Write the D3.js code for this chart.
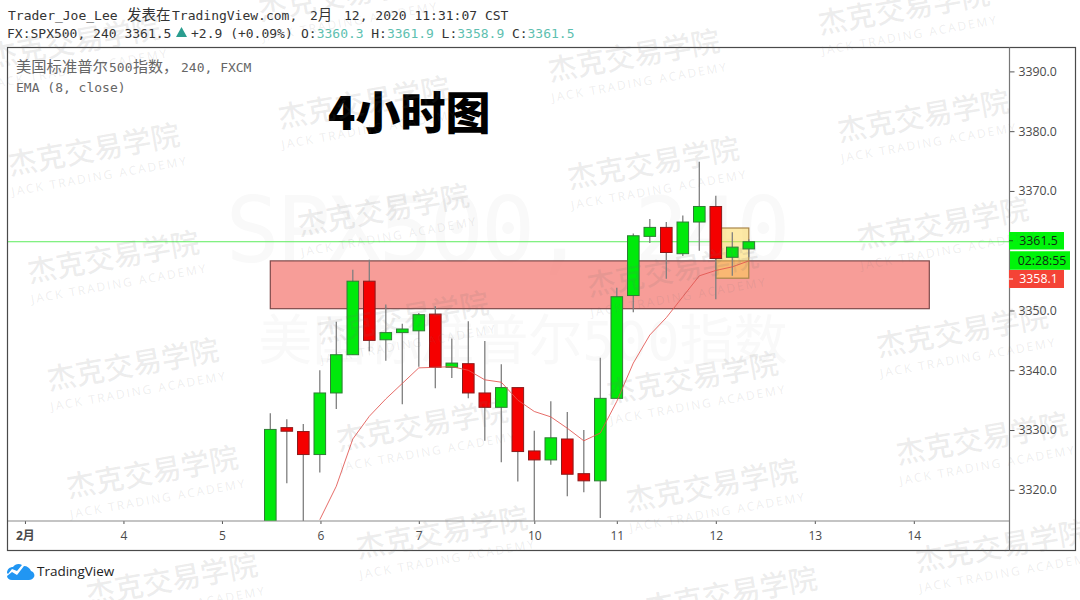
<!DOCTYPE html>
<html><head><meta charset="utf-8">
<script src="https://cdn.jsdelivr.net/npm/d3@7"></script>
<style>html,body{margin:0;padding:0;background:#fff}svg{display:block}text{font-family:"DejaVu Sans Mono","Noto Sans CJK SC",monospace}</style>
</head><body><svg id="c" width="1080" height="600"></svg>
<script>
const opens =[3310,3330.4,3329.75,3325.9,3336.2,3342.6,3354.9,3345.1,3346.3,3346.6,3349.4,3340.5,3341.1,3336.2,3333.8,3337.1,3326.5,3325,3328.5,3322.7,3321.5,3335.3,3352.5,3362.4,3363.9,3359.5,3364.8,3367.4,3358.9,3360.3];
const closes=[3330.1,3329.8,3325.9,3336.2,3342.6,3354.9,3345,3346.3,3346.9,3349.3,3340.5,3341.2,3336.2,3333.8,3337.1,3326.4,3325,3328.7,3322.6,3321.5,3335.3,3352.3,3362.5,3363.9,3359.7,3364.8,3367.4,3358.7,3360.6,3361.5];
const highs =[3332.8,3331.8,3331,3340,3348.1,3356.8,3358.5,3351,3347.8,3349.6,3350.7,3345.3,3348.2,3344.9,3341,3337.1,3329.9,3334.8,3333,3330,3342.1,3353.8,3362.9,3365.3,3364.8,3365.9,3374.9,3369.2,3363.1,3361.9];
const lows  =[3310,3321.1,3312,3322.9,3333.5,3342.6,3343.2,3341.6,3334.3,3340.6,3337,3338.7,3335.3,3328.2,3324.6,3321.4,3313,3324.2,3318.9,3319.6,3315.3,3335.3,3349.7,3361.3,3355.3,3359.1,3360,3351.9,3355.8,3358.9];
const ema   =[null,null,null,3315,3320.6,3328.5,3332.3,3335.2,3337.8,3340.4,3340.5,3340.6,3340,3338.4,3338,3335,3333.1,3332.2,3330.3,3328.2,3329.5,3334.8,3341.2,3345.9,3348.8,3352.3,3355.8,3356.7,3357.3,3358.3];
const yTicks=[3320,3330,3340,3350,3370,3380,3390];
const xTickIdx=[-14.87,-8.9,-2.93,3.04,9,16,21,27,33,39];
const xTickLabels=["2月","4","5","6","7","10","11","12","13","14"];
const ohlcLabels=["O:","H:","L:","C:"];
const ohlcValues=["3360.3","3361.9","3358.9","3361.5"];
const zone=[0,39.94,3358.3,3350.3];
const box=[27,29,3363.8,3355.4];
const lastPrice=3361.5, emaPrice=3358.1;

const svg=d3.select("#c");
const x=d3.scaleLinear().domain([-15,39]).range([22.8,913.8]);
const y=d3.scaleLinear().domain([3320,3390]).range([489.8,71.4]);
const L=7.5,R=1009.5,T=47.5,A=521,B=550.5,RR=1075.5;

svg.append("defs").append("clipPath").attr("id","plot").append("rect").attr("x",L).attr("y",T).attr("width",R-L).attr("height",A-T);

// faint symbol watermark
const sym=svg.append("g").attr("fill","#f9f9f9").attr("text-anchor","middle").style("font-family",'"Liberation Sans","Noto Sans CJK SC",sans-serif');
sym.append("text").attr("x",508).attr("y",262).attr("font-size",90).attr("textLength",565).text("SPX500, 240");
sym.append("text").attr("x",523).attr("y",360).attr("font-size",54).text("美国标准普尔500指数");

const plot=svg.append("g").attr("clip-path","url(#plot)");
// price line
plot.append("line").attr("x1",L).attr("x2",R).attr("y1",y(lastPrice)).attr("y2",y(lastPrice)).attr("stroke","#5cec5c").attr("stroke-width",1);
// drawings
plot.append("rect").attr("x",x(zone[0])).attr("width",x(zone[1])-x(zone[0])).attr("y",y(zone[2])).attr("height",y(zone[3])-y(zone[2])).attr("fill","#f47c76").attr("fill-opacity",.75).attr("stroke","#7e4a4a").attr("stroke-width",1.2);
plot.append("rect").attr("x",x(box[0])).attr("width",x(box[1])-x(box[0])).attr("y",y(box[2])).attr("height",y(box[3])-y(box[2])).attr("fill","#fcd34d").attr("fill-opacity",.5).attr("stroke","#a9854a").attr("stroke-width",1.2);

const idx=d3.range(opens.length);
plot.append("g").selectAll("line").data(idx).join("line")
 .attr("x1",i=>x(i)).attr("x2",i=>x(i)).attr("y1",i=>y(highs[i])).attr("y2",i=>y(lows[i]))
 .attr("stroke","#7f7f7f").attr("stroke-width",1.3);
plot.append("g").selectAll("rect").data(idx).join("rect")
 .attr("x",i=>x(i)-5.8).attr("width",11.6)
 .attr("y",i=>y(Math.max(opens[i],closes[i])))
 .attr("height",i=>Math.max(1,Math.abs(y(opens[i])-y(closes[i]))))
 .attr("fill",i=>closes[i]>=opens[i]?"#00e90b":"#f50000")
 .attr("stroke",i=>closes[i]>=opens[i]?"#2f7d35":"#8a1c1c").attr("stroke-width",1);
plot.append("path").datum(idx.filter(i=>ema[i]!=null))
 .attr("d",d3.line().x(i=>x(i)).y(i=>y(ema[i])))
 .attr("fill","none").attr("stroke","#e2544f").attr("stroke-opacity",.85).attr("stroke-width",1);

// axes
const ay=svg.append("g").attr("transform",`translate(${R},0)`).call(d3.axisRight(y).tickValues(yTicks).tickFormat(d3.format(".1f")).tickSize(5).tickPadding(4));
ay.select(".domain").remove();
ay.selectAll("line").attr("stroke","#555");
ay.selectAll("text").attr("fill","#4a4a4a").style("font-family",'"Open Sans",sans-serif').attr("font-size",12.3);
const ax=svg.append("g").attr("transform",`translate(0,${A})`).call(d3.axisBottom(x).tickValues(xTickIdx).tickFormat((d,i)=>xTickLabels[i]).tickSize(3).tickPadding(7));
ax.select(".domain").remove();
ax.selectAll("line").attr("stroke","#555");
ax.selectAll("text").attr("fill","#4a4a4a").style("font-family",'"Open Sans","Noto Sans CJK SC",sans-serif').attr("font-size",12).attr("font-weight",(d,i)=>i==0?700:400);

svg.append("line").attr("x1",L).attr("x2",R).attr("y1",A).attr("y2",A).attr("stroke","#8a8a8a").attr("stroke-width",1.2);
svg.append("rect").attr("x",L).attr("y",T).attr("width",RR-L).attr("height",B-T).attr("fill","none").attr("stroke","#4a4a4a").attr("stroke-width",1.2);
svg.append("line").attr("x1",R).attr("x2",R).attr("y1",T).attr("y2",B).attr("stroke","#777").attr("stroke-width",1.2);

// price tags
function tag(yc,w,h,fill,col,txt,x0,tick){
  svg.append("rect").attr("x",x0).attr("y",yc-h/2).attr("width",w).attr("height",h).attr("fill",fill);
  if(tick) svg.append("line").attr("x1",x0).attr("x2",x0+4).attr("y1",yc).attr("y2",yc).attr("stroke",tick);
  svg.append("text").attr("x",x0+w/2+2).attr("y",yc+4.4).attr("text-anchor","middle").attr("fill",col).attr("font-size",12.3).style("font-family",'"Open Sans",sans-serif').text(txt);
}
tag(y(lastPrice)-1,55,17.5,"#00f50a","#0f2a12",d3.format(".1f")(lastPrice),1009,"#14551a");
tag(260.5,60,18.5,"#00f50a","#0f2a12","02:28:55",1010);
tag(279,55,18,"#f44336","#fff",d3.format(".1f")(emaPrice),1009,"#fff");

// header
const head=svg.append("g").attr("font-size",13).attr("fill","#333");
const h1=head.append("text").attr("y",20);
h1.append("tspan").attr("x",8).text("Trader_Joe_Lee");
h1.append("tspan").attr("x",127).attr("font-size",14.5).text("发表在");
h1.append("tspan").attr("x",172).text("TradingView.com,");
h1.append("tspan").attr("x",310).text("2");
h1.append("tspan").attr("font-size",14.5).text("月");
h1.append("tspan").attr("x",344).text("12, 2020 11:31:07 CST");
head.append("text").attr("x",7).attr("y",38).text("FX:SPX500, 240 3361.5");
svg.append("path").attr("d","M176 37 L187 37 L181.5 27 Z").attr("fill","#2a9d8f");
head.append("text").attr("x",191).attr("y",38).text("+2.9 (+0.09%)");
ohlcLabels.forEach((lab,i)=>{
  const t=head.append("text").attr("x",301+i*70.3).attr("y",38);
  t.append("tspan").text(lab);
  t.append("tspan").attr("fill","#5ebfb0").text(ohlcValues[i]);
});
const leg=svg.append("g").attr("font-size",13).attr("fill","#666");
const l1=leg.append("text").attr("y",72);
l1.append("tspan").attr("x",16).attr("font-size",15.3).text("美国标准普尔");
l1.append("tspan").attr("x",109).text("500");
l1.append("tspan").attr("x",133).attr("font-size",15).text("指数，");
l1.append("tspan").attr("x",181).text("240, FXCM");
leg.append("text").attr("x",16).attr("y",92).text("EMA (8, close)");

svg.append("text").attr("x",328).attr("y",130).attr("font-size",45).attr("font-weight",900).attr("fill","#000")
  .style("font-family",'"Noto Sans CJK SC",sans-serif').text("4小时图");

// TradingView logo
svg.append("path").attr("fill","#2196f3")
 .attr("d","M7 573 C7 569 10 567 13 567 C15 564 19 563 22 565 L17 571 L12 569 L8 574 Z M24 566 C27 566 30 568 31 571 C34 572 35 575 34 577 C33 579 31 580 29 580 L12 580 C9 580 7 578 7 576 L12 572 L17 575 L24 566Z");
svg.append("text").attr("x",37).attr("y",576).attr("font-size",13.5).attr("fill","#222").style("font-family",'"Open Sans",sans-serif').text("TradingView");

// repeated publisher watermark
const wm=svg.append("g").attr("pointer-events","none").style("font-family",'"Noto Sans CJK SC",sans-serif');
for(let a=0;a<=3;a++)for(let b=-1;b<=5;b++){
  const cx=94+270*a+19.5*b, cy=150-47*a+107.5*b;
  if(cx<60||cy<-10||cy>610)continue;
  const g=wm.append("g").attr("transform",`translate(${cx},${cy}) rotate(-10)`);
  g.append("text").attr("text-anchor","middle").attr("y",10).attr("font-size",29).attr("font-weight",500).attr("fill","#6f6f6f").attr("fill-opacity",.13).text("杰克交易学院");
  g.append("text").attr("text-anchor","middle").attr("x",1).attr("y",31).attr("font-size",12).attr("fill","#6f6f6f").attr("fill-opacity",.13).attr("letter-spacing",2).style("font-family",'"Open Sans",sans-serif').text("JACK TRADING ACADEMY");
}
</script></body></html>
